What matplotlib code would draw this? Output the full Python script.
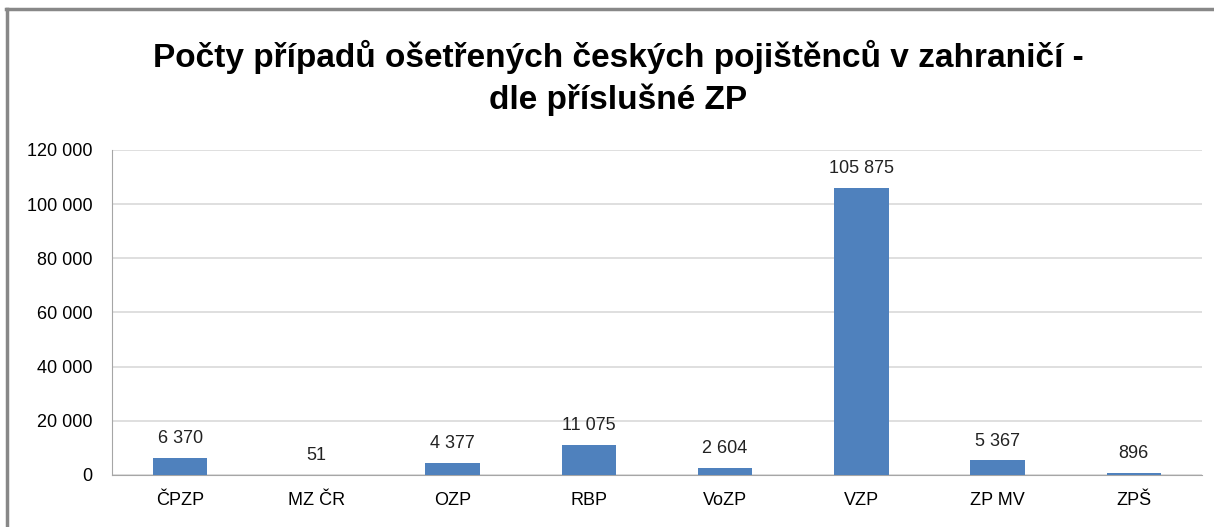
import matplotlib.pyplot as plt
from matplotlib.lines import Line2D

categories = ["ČPZP", "MZ ČR", "OZP", "RBP", "VoZP", "VZP", "ZP MV", "ZPŠ"]
values = [6370, 51, 4377, 11075, 2604, 105875, 5367, 896]
yticks = [0, 20000, 40000, 60000, 80000, 100000, 120000]


def fmt(v):
    return f"{v:,}".replace(",", " ")


plt.rcParams['font.family'] = ['Liberation Sans', 'DejaVu Sans']

fig = plt.figure(figsize=(12.14, 5.27), dpi=100)
ax = fig.add_axes([0.0923, 0.0987, 0.8977, 0.6167])

x = range(len(categories))
ax.bar(x, values, width=0.4, color="#4F81BD", zorder=3)
for i, v in zip(x, values):
    ax.text(i, v + 4000, fmt(v), ha="center", va="bottom", fontsize=13, color="#222222")

ax.set_xlim(-0.5, len(categories) - 0.5)
ax.set_ylim(0, 120000)
ax.set_yticks(yticks)
ax.set_yticklabels([fmt(t) for t in yticks], fontsize=13)
ax.set_xticks(list(x))
ax.set_xticklabels(categories, fontsize=13)
ax.tick_params(axis="y", length=0, pad=14)
ax.tick_params(axis="x", length=0, pad=12)
ax.grid(axis="y", color="#D9D9D9", linewidth=1.2, zorder=0)
for s in ["top", "right"]:
    ax.spines[s].set_visible(False)
ax.spines["left"].set_color("#A6A6A6")
ax.spines["bottom"].set_color("#A6A6A6")

fig.text(0.509, 0.852, "Počty případů ošetřených českých pojištěnců v zahraničí -\ndle příslušné ZP",
         ha="center", va="center", fontsize=24, fontweight="bold", linespacing=1.38)

# frame visible only on top and left in the reference
fig.add_artist(Line2D([0.005, 1.0], [0.983, 0.983], transform=fig.transFigure,
                      color="#888888", linewidth=2.5))
fig.add_artist(Line2D([0.006, 0.006], [0.0, 0.983], transform=fig.transFigure,
                      color="#888888", linewidth=2.5))

fig.savefig("out.png", dpi=100)
